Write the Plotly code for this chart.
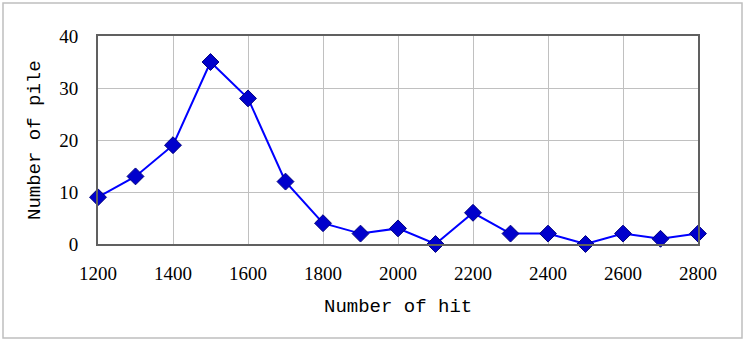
import plotly.graph_objects as go

hits = [1200, 1300, 1400, 1500, 1600, 1700, 1800, 1900, 2000, 2100, 2200, 2300, 2400, 2500, 2600, 2700, 2800]
piles = [9, 13, 19, 35, 28, 12, 4, 2, 3, 0, 6, 2, 2, 0, 2, 1, 2]
x_ticks = [1200, 1400, 1600, 1800, 2000, 2200, 2400, 2600, 2800]
y_ticks = [0, 10, 20, 30, 40]

W, H = 745, 342
L, R, T, B = 98, 698, 36, 244

fig = go.Figure()
fig.add_trace(go.Scatter(
    x=hits, y=piles, mode="lines+markers",
    line=dict(color="#0000FF", width=2),
    marker=dict(symbol="diamond", size=13, color="#0000CC", line=dict(color="#000080", width=1)),
    cliponaxis=False, showlegend=False,
))

tickfont = dict(family="Liberation Serif, Times New Roman, serif", size=19, color="#000")
fig.update_xaxes(range=[1200, 2800], tickvals=x_ticks, showgrid=True, gridcolor="#c0c0c0", gridwidth=1,
                 showline=True, linecolor="#606060", linewidth=2, mirror=True, ticks="", zeroline=False,
                 tickfont=tickfont, ticklabelstandoff=11)
fig.update_yaxes(range=[0, 40], tickvals=y_ticks, showgrid=True, gridcolor="#c0c0c0", gridwidth=1,
                 showline=True, linecolor="#606060", linewidth=2, mirror=True, ticks="", zeroline=False,
                 tickfont=tickfont, ticklabelstandoff=14)

pw, ph = R - L, B - T
def px(x):
    return (x - L) / pw
def py(y):
    return (B - y) / ph

titlefont = dict(family="Liberation Mono, Courier New, monospace", size=19, color="#000")
fig.add_annotation(text="Number of hit", xref="paper", yref="paper", x=0.5, y=py(307),
                   showarrow=False, font=titlefont, xanchor="center", yanchor="middle")
fig.add_annotation(text="Number of pile", xref="paper", yref="paper", x=px(35), y=0.5,
                   showarrow=False, font=titlefont, xanchor="center", yanchor="middle", textangle=-90)

fig.add_shape(type="rect", xref="paper", yref="paper", x0=px(3), x1=px(742), y0=py(338), y1=py(3),
              line=dict(color="#bfbfbf", width=1.5), layer="below")

fig.update_layout(width=W, height=H, margin=dict(l=L, r=W - R, t=T, b=H - B),
                  plot_bgcolor="white", paper_bgcolor="white")

fig.write_html("out.html", config={"displayModeBar": False},
               post_script="document.body.style.margin='0';document.body.style.overflow='hidden';")
